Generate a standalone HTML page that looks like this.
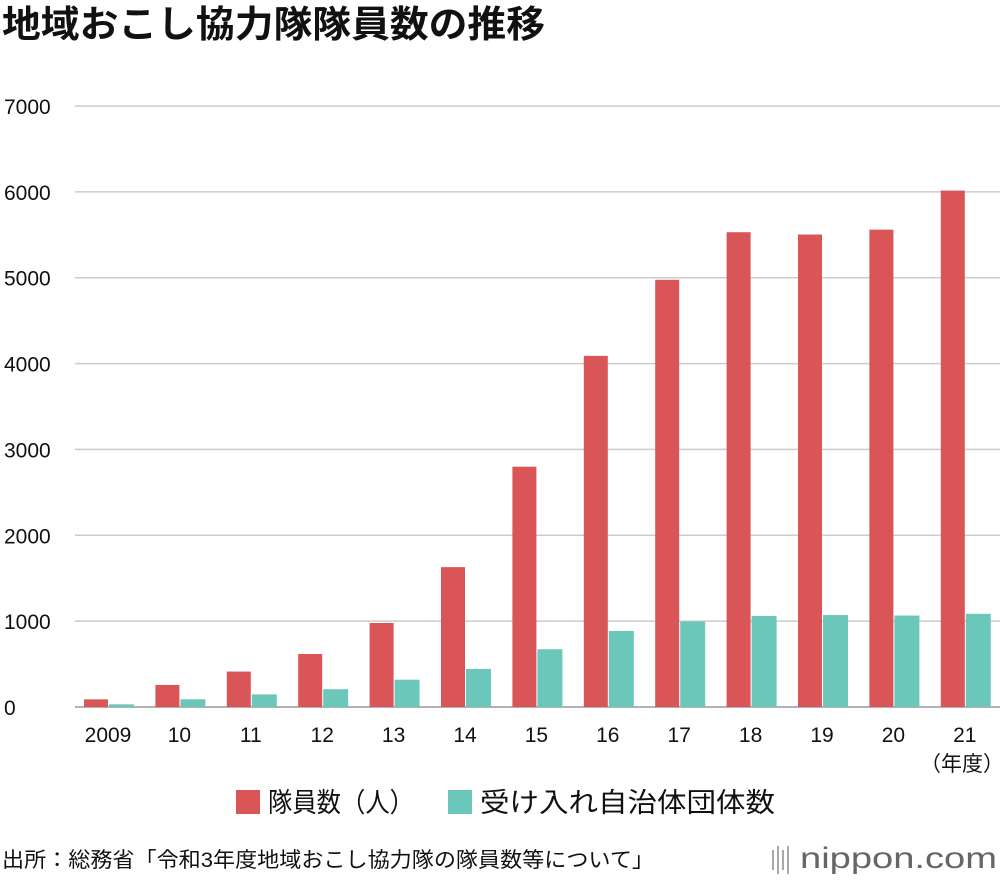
<!DOCTYPE html>
<html><head><meta charset="utf-8"><style>
body{margin:0;background:#fff;font-family:"Liberation Sans","Noto Sans CJK JP",sans-serif;}
#wrap{position:relative;width:1000px;height:880px;overflow:hidden;}
</style></head><body>
<div id="wrap">
<svg id="chart" width="1000" height="880"></svg>
</div>
<script>
const categories=["2009","10","11","12","13","14","15","16","17","18","19","20","21"];
const members=[89,257,413,617,978,1629,2799,4090,4976,5530,5503,5560,6015];
const groups=[31,90,147,207,318,444,673,886,997,1061,1071,1065,1085];
const yTicks=[0,1000,2000,3000,4000,5000,6000,7000];
const NS="http://www.w3.org/2000/svg";
const svg=document.getElementById('chart');
const y0=707,yTop=106,yMax=7000;
function y(v){return y0-(v/yMax)*(y0-yTop);}
function xc(i){return 108+i*71.4;}
function mk(tag,attrs,text){const e=document.createElementNS(NS,tag);for(const k in attrs)e.setAttribute(k,attrs[k]);if(text!==undefined)e.textContent=text;svg.appendChild(e);return e;}
const FF='"Liberation Sans","Noto Sans CJK JP",sans-serif';
let t=mk('text',{x:2,y:37,'font-size':37,'font-weight':'bold','font-family':FF,fill:'#111',textLength:543,lengthAdjust:'spacingAndGlyphs'},'地域おこし協力隊隊員数の推移');


yTicks.forEach(v=>{
 const l=mk('line',{x1:75,x2:1000,y1:y(v),y2:y(v),stroke:v===0?'#999':'#ccc','stroke-width':1.5});
 
 
 const tx=mk('text',{x:4,y:y(v)+8,'font-size':21,'font-family':FF,fill:'#111'},String(v));
 
 
});
categories.forEach((c,i)=>{
 const cx=xc(i);
 const r=mk('rect',{x:cx-24,y:y(members[i]),width:24,height:y0-y(members[i]),fill:'#d95557'});
 
 
 const g=mk('rect',{x:cx+1,y:y(groups[i]),width:25,height:y0-y(groups[i]),fill:'#6cc7bb'});
 
 
 const tx=mk('text',{x:cx,y:742,'font-size':21,'text-anchor':'middle','font-family':FF,fill:'#111'},c);
 
 
});
let u=mk('text',{x:962,y:771,'font-size':21,'text-anchor':'middle','font-family':FF,fill:'#111'},'（年度）');


let lr=mk('rect',{x:236,y:790,width:24,height:24,fill:'#d95557'});


let lt=mk('text',{x:268,y:812,'font-size':27,'font-family':FF,fill:'#111',textLength:146,lengthAdjust:'spacingAndGlyphs'},'隊員数（人）');


let gr=mk('rect',{x:448,y:790,width:24,height:24,fill:'#6cc7bb'});


let gt=mk('text',{x:480,y:812,'font-size':27,'font-family':FF,fill:'#111',textLength:295,lengthAdjust:'spacingAndGlyphs'},'受け入れ自治体団体数');


let s=mk('text',{x:2,y:867,'font-size':21,'font-family':FF,fill:'#111',textLength:652,lengthAdjust:'spacingAndGlyphs'},'出所：総務省「令和3年度地域おこし協力隊の隊員数等について」');


for(let k=0;k<4;k++){const b=mk('rect',{x:772+k*5,y:850-(k%2?4:0),width:2,height:20+(k%2?8:0),fill:'#aaa'});}
let lg=mk('text',{x:800,y:868,'font-size':30,'font-family':FF,fill:'#666',textLength:197,lengthAdjust:'spacingAndGlyphs'},'nippon.com');


</script>
</body></html>
